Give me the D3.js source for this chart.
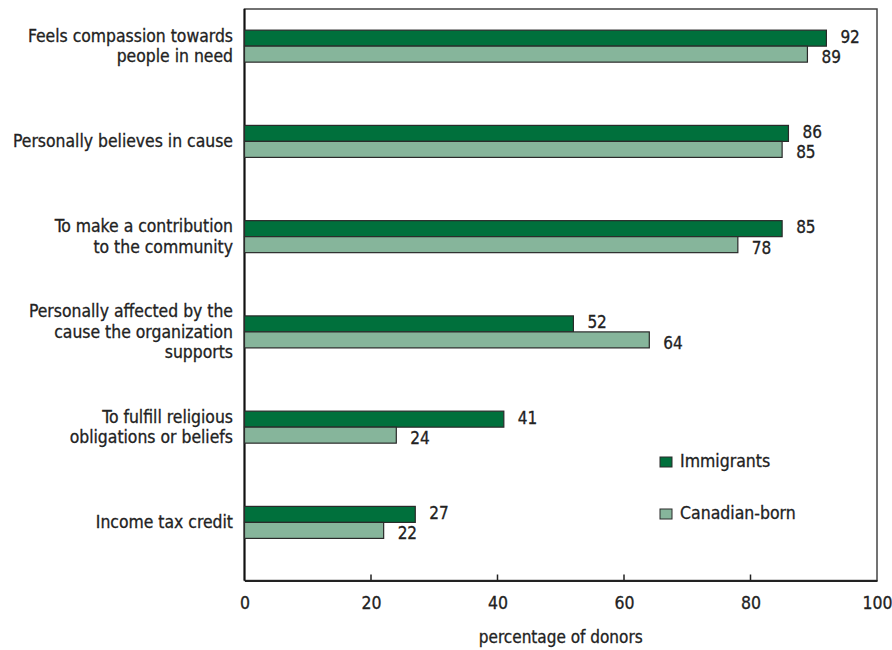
<!DOCTYPE html>
<html><head><meta charset="utf-8">
<script src="https://cdn.jsdelivr.net/npm/d3@7/dist/d3.min.js"></script>
<style>body{margin:0;background:#fff}svg{display:block}
text{stroke:#222;stroke-width:0.3px}</style>
</head><body>
<svg id="chart" width="892" height="650"></svg>
<script>
const categories = [
  ["Feels compassion towards", "people in need"],
  ["Personally believes in cause"],
  ["To make a contribution", "to the community"],
  ["Personally affected by the", "cause the organization", "supports"],
  ["To fulfill religious", "obligations or beliefs"],
  ["Income tax credit"]
];
const immigrants = [92, 86, 85, 52, 41, 27];
const canadianBorn = [89, 85, 78, 64, 24, 22];
const seriesNames = ["Immigrants", "Canadian-born"];
const xTicks = [0, 20, 40, 60, 80, 100];

const colors = ["#00703c", "#86b59b"];
const FONT = "'DejaVu Sans Condensed', 'DejaVu Sans', sans-serif";

const svg = d3.select("#chart");
const m = {left: 244.5, right: 877, top: 9, bottom: 580.5};
const x = d3.scaleLinear().domain([0, 100]).range([m.left, m.right]);
const y = d3.scaleBand().domain(d3.range(categories.length)).range([m.top, m.bottom]);
const bh = y.bandwidth() * 0.168;
const off = y.bandwidth() * 0.222;

// frame
svg.append("rect").attr("x", m.left).attr("y", m.top)
  .attr("width", m.right - m.left).attr("height", m.bottom - m.top)
  .attr("fill", "none").attr("stroke", "#444").attr("stroke-width", 1.5);

// x axis
const xAxis = d3.axisBottom(x).tickValues(xTicks).tickSize(0).tickPadding(16);
const gx = svg.append("g").attr("transform", `translate(0,${m.bottom})`).call(xAxis);
gx.select(".domain").attr("stroke", "#222").attr("stroke-width", 2);
gx.selectAll("text").attr("font-family", FONT).attr("font-size", 17.5).attr("fill", "#222");
// inner ticks
svg.append("g").selectAll("line").data(xTicks.slice(1, -1)).join("line")
  .attr("x1", d => x(d)).attr("x2", d => x(d))
  .attr("y1", m.bottom).attr("y2", m.bottom - 6)
  .attr("stroke", "#222").attr("stroke-width", 1.5);
// left axis line
svg.append("line").attr("x1", m.left).attr("x2", m.left).attr("y1", m.top).attr("y2", m.bottom)
  .attr("stroke", "#111").attr("stroke-width", 2);

svg.append("text").attr("x", (m.left + m.right) / 2).attr("y", 643)
  .attr("text-anchor", "middle").attr("font-family", FONT).attr("font-size", 17).attr("fill", "#222")
  .text("percentage of donors");

// bars
const series = [immigrants, canadianBorn];
series.forEach((vals, s) => {
  const g = svg.append("g");
  g.selectAll("rect").data(vals).join("rect")
    .attr("x", x(0))
    .attr("y", (d, i) => y(i) + off + s * bh)
    .attr("width", d => x(d) - x(0))
    .attr("height", bh)
    .attr("fill", colors[s]).attr("stroke", "#2a2a2a").attr("stroke-width", 1.2);
  g.selectAll("text").data(vals).join("text")
    .attr("x", d => x(d) + 14)
    .attr("y", (d, i) => y(i) + off + (s + 1) * bh + (s === 0 ? -3.5 : 1))
    .attr("font-family", FONT).attr("font-size", 17).attr("fill", "#222")
    .text(d => d);
});

// category labels
const lab = svg.append("g");
categories.forEach((lines, i) => {
  const cy = y(i) + off + bh;
  const lh = 20.5;
  const t = lab.append("text").attr("text-anchor", "end")
    .attr("font-family", FONT).attr("font-size", 17.4).attr("fill", "#222");
  lines.forEach((ln, k) => {
    t.append("tspan").attr("x", 233)
      .attr("y", cy + (k - (lines.length - 1) / 2) * lh + 6)
      .text(ln);
  });
});

// legend
const leg = svg.append("g");
seriesNames.forEach((n, i) => {
  const ly = 457 + i * 52;
  leg.append("rect").attr("x", 660).attr("y", ly).attr("width", 12).attr("height", 10)
    .attr("fill", colors[i]).attr("stroke", "#2a2a2a").attr("stroke-width", 1);
  leg.append("text").attr("x", 680).attr("y", ly + 10)
    .attr("font-family", FONT).attr("font-size", 17.5).attr("fill", "#222").text(n);
});
</script>
</body></html>
